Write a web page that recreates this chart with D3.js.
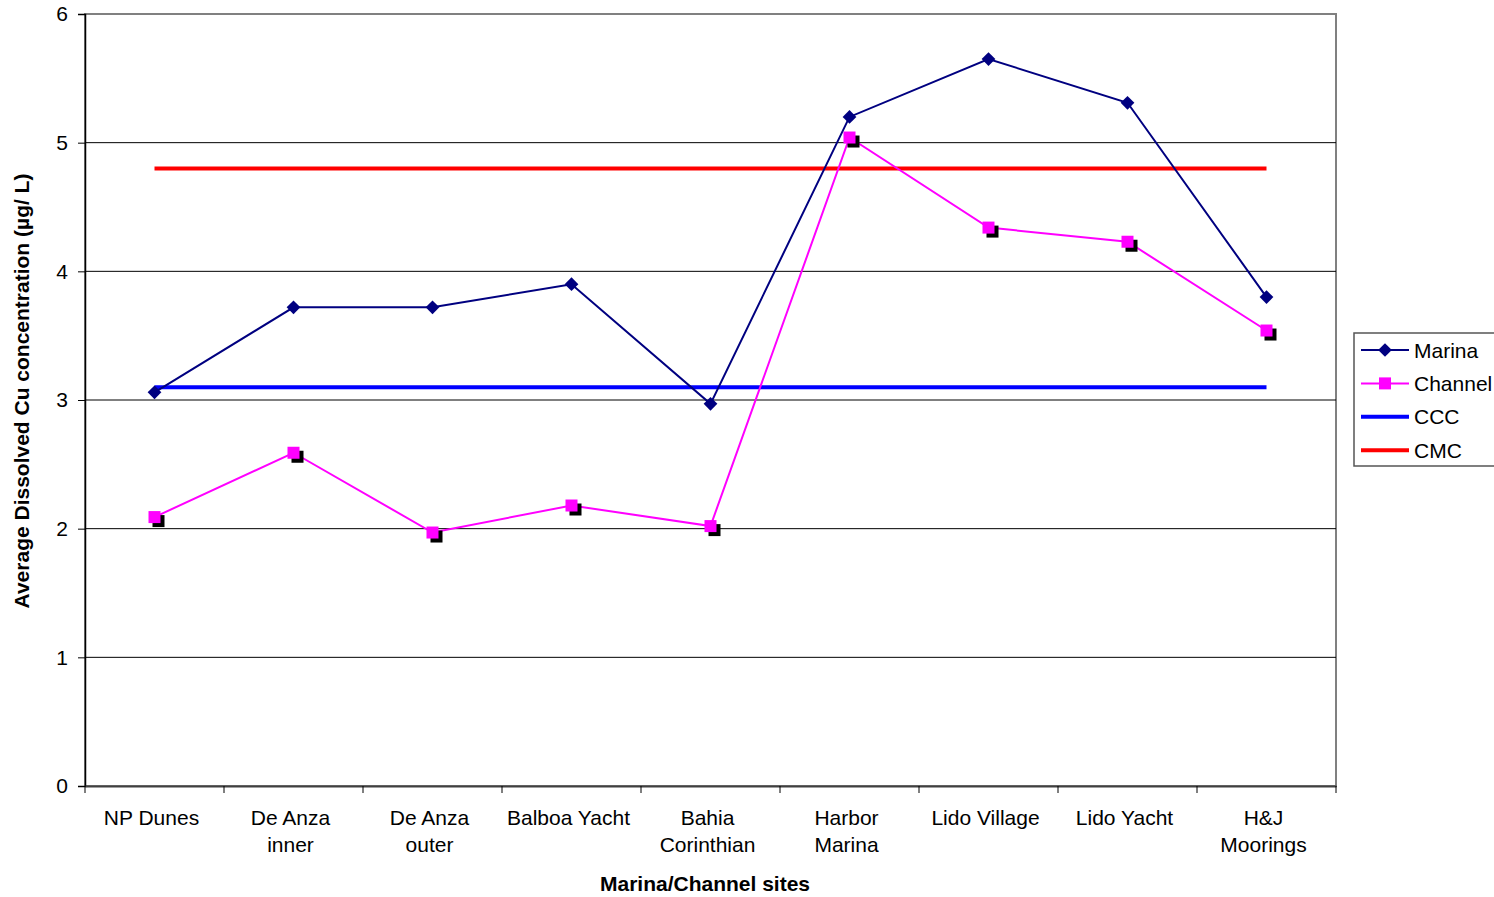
<!DOCTYPE html>
<html><head><meta charset="utf-8">
<script src="https://cdn.jsdelivr.net/npm/d3@7"></script>
<style>body{margin:0;background:#fff}svg{display:block;font-family:Arial,"Liberation Sans",sans-serif}</style>
</head><body>
<svg id="c" width="1494" height="897"></svg>
<script>
const categories = [["NP Dunes"],["De Anza","inner"],["De Anza","outer"],["Balboa Yacht"],["Bahia","Corinthian"],["Harbor","Marina"],["Lido Village"],["Lido Yacht"],["H&J","Moorings"]];
const marina = [3.06,3.72,3.72,3.90,2.97,5.20,5.65,5.31,3.80];
const channel = [2.09,2.59,1.97,2.18,2.02,5.04,4.34,4.23,3.54];
const cccValue = 3.10;
const cmcValue = 4.80;
const yTicks = [0,1,2,3,4,5,6];

const svg = d3.select("#c");
const FS = 21;
const L=85,T=14,R=1336,B=786;
const keys = categories.map((d,i)=>i);
const x = d3.scaleBand().domain(keys).range([L,R]);
const cx = i => x(i)+x.bandwidth()/2;
const y = d3.scaleLinear().domain([0,6]).range([B,T]);

svg.append("rect").attr("x",L).attr("y",T).attr("width",R-L).attr("height",B-T).attr("fill","#fff").attr("stroke","#808080").attr("stroke-width",2);
svg.append("g").selectAll("line").data(yTicks.filter(t=>t>0&&t<6)).join("line")
  .attr("x1",L).attr("x2",R).attr("y1",d=>y(d)).attr("y2",d=>y(d)).attr("stroke","#000").attr("stroke-width",1);

const ya = svg.append("g").attr("transform",`translate(${L},0)`).call(d3.axisLeft(y).tickValues(yTicks).tickSize(7).tickPadding(10).tickFormat(d3.format("d")));
ya.select(".domain").attr("stroke","#000").attr("stroke-width",1.5);
ya.selectAll(".tick line").attr("stroke","#000");
ya.selectAll("text").attr("font-size",FS).attr("font-family","Arial,'Liberation Sans',sans-serif").attr("fill","#000");

const xa = svg.append("g").attr("transform",`translate(0,${B})`).call(d3.axisBottom(x).tickSize(0).tickFormat(""));
xa.select(".domain").attr("stroke","#404040").attr("stroke-width",2);
svg.append("g").selectAll("line").data(d3.range(categories.length+1)).join("line")
  .attr("x1",i=>L+i*x.bandwidth()).attr("x2",i=>L+i*x.bandwidth()).attr("y1",B).attr("y2",B+7).attr("stroke","#000");
const xl = svg.append("g").selectAll("text").data(keys).join("text")
  .attr("x",i=>cx(i)-3).attr("y",825).attr("text-anchor","middle").attr("font-size",FS).attr("fill","#000");
xl.each(function(i){
  const t=d3.select(this);
  categories[i].forEach((s,k)=>t.append("tspan").attr("x",cx(i)-3).attr("dy",k?27:0).text(s));
});

svg.append("text").attr("x",705).attr("y",891).attr("text-anchor","middle").attr("font-size",FS).attr("font-weight","bold").text("Marina/Channel sites");
svg.append("text").attr("transform","translate(29,391) rotate(-90)").attr("text-anchor","middle").attr("font-size",FS).attr("font-weight","bold").text("Average Dissolved Cu concentration (µg/ L)");

svg.append("line").attr("x1",cx(0)).attr("x2",cx(8)).attr("y1",y(cccValue)).attr("y2",y(cccValue)).attr("stroke","#0000ff").attr("stroke-width",4);
svg.append("line").attr("x1",cx(0)).attr("x2",cx(8)).attr("y1",y(cmcValue)).attr("y2",y(cmcValue)).attr("stroke","#ff0000").attr("stroke-width",4);

const line = d3.line().x((d,i)=>cx(i)).y(d=>y(d));
svg.append("path").datum(channel).attr("d",line).attr("fill","none").attr("stroke","#ff00ff").attr("stroke-width",2);
svg.append("g").selectAll("rect").data(channel).join("rect")
  .attr("x",(d,i)=>cx(i)-6+4).attr("y",d=>y(d)-6+4).attr("width",12).attr("height",12).attr("fill","#000");
svg.append("g").selectAll("rect").data(channel).join("rect")
  .attr("x",(d,i)=>cx(i)-6).attr("y",d=>y(d)-6).attr("width",12).attr("height",12).attr("fill","#ff00ff");
svg.append("path").datum(marina).attr("d",line).attr("fill","none").attr("stroke","#000080").attr("stroke-width",2);
const dia = d3.symbol().type(d3.symbolDiamond2).size(120);
svg.append("g").selectAll("path").data(marina).join("path")
  .attr("transform",(d,i)=>`translate(${cx(i)},${y(d)})`).attr("d",dia).attr("fill","#000080");

const lg = svg.append("g");
lg.append("rect").attr("x",1354).attr("y",333).attr("width",150).attr("height",133).attr("fill","#fff").attr("stroke","#555").attr("stroke-width",1.5);
const items = [
  {name:"Marina",color:"#000080",w:2,m:"d"},
  {name:"Channel",color:"#ff00ff",w:2,m:"s"},
  {name:"CCC",color:"#0000ff",w:4},
  {name:"CMC",color:"#ff0000",w:4}];
items.forEach((it,k)=>{
  const yy = 350+k*33.4;
  lg.append("line").attr("x1",1361).attr("x2",1409).attr("y1",yy).attr("y2",yy).attr("stroke",it.color).attr("stroke-width",it.w);
  if(it.m==="d") lg.append("path").attr("transform",`translate(1385,${yy})`).attr("d",dia).attr("fill",it.color);
  if(it.m==="s") lg.append("rect").attr("x",1379).attr("y",yy-6).attr("width",12).attr("height",12).attr("fill",it.color);
  lg.append("text").attr("x",1414).attr("y",yy+7.5).attr("font-size",FS).attr("fill","#000").text(it.name);
});
</script>
</body></html>
